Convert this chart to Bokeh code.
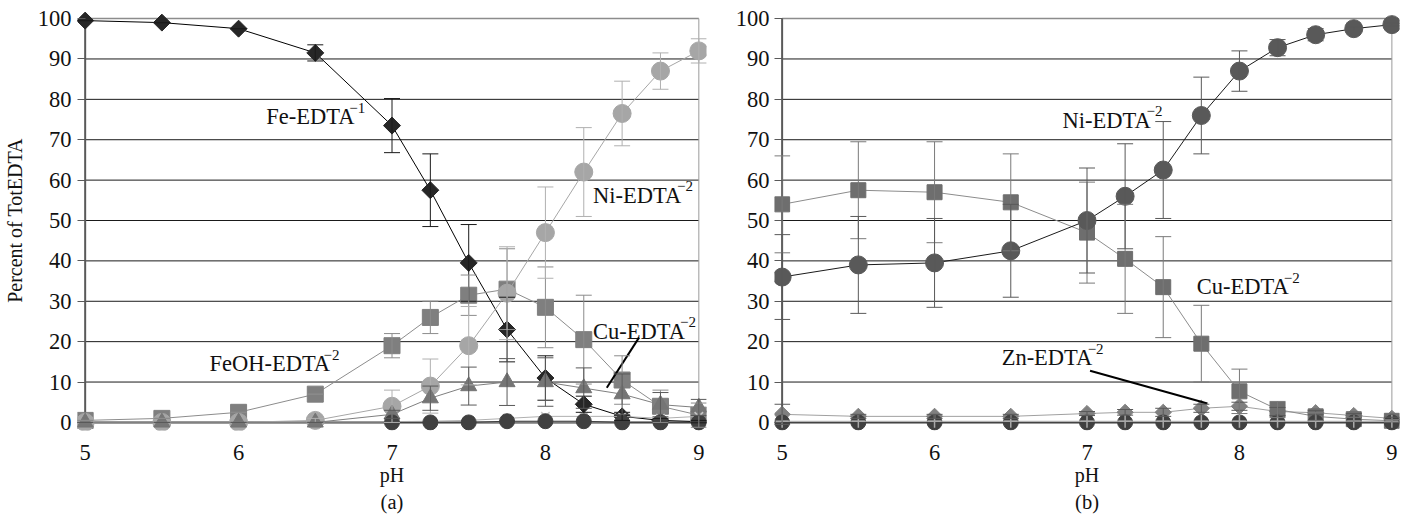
from bokeh.plotting import figure
from bokeh.layouts import row
from bokeh.models import ColumnDataSource, Whisker, TeeHead, FixedTicker, Range1d, Title
from bokeh.core.properties import value
from bokeh.embed import file_html
from bokeh.resources import INLINE
import math

FONT = "Liberation Serif"
TXT = "#111111"

# ---------------- data ----------------
PH = [5, 5.5, 6, 6.5, 7, 7.25, 7.5, 7.75, 8, 8.25, 8.5, 8.75, 9]
PH_HI = [7, 7.25, 7.5, 7.75, 8, 8.25, 8.5, 8.75, 9]
X_TICKS = [5, 6, 7, 8, 9]
Y_TICKS = [0, 10, 20, 30, 40, 50, 60, 70, 80, 90, 100]

# panel (a)
A_FE = [99.5, 99, 97.5, 91.5, 73.5, 57.5, 39.5, 23, 11, 4.5, 1.5, 0.5, 0.2]
A_FE_ERR = [0, 0, 0, 2, 6.7, 9, 9.5, 8, 5.5, 2, 1, 0.5, 0.3]
A_FEOH = [0.5, 1, 2.5, 7, 19, 26, 31.5, 33, 28.5, 20.5, 10.5, 4, 1.8]
A_FEOH_ERR = [0, 0, 0, 0, 3, 4, 5, 10, 10, 11, 6, 4, 3]
A_NI = [0, 0, 0, 0.5, 4, 9, 19, 32, 47, 62, 76.5, 87, 92]
A_NI_ERR = [0, 0, 0, 0.5, 4, 6.7, 9.7, 11.5, 11.3, 11, 8, 4.5, 3]
A_CU = [0, 0, 0, 0, 2, 6, 9, 10, 10, 8.5, 7, 4.4, 3.7]
A_CU_ERR = [0, 0, 0, 0, 1, 3, 4.7, 5.8, 6, 5, 5, 3, 2]
A_X = [0.2, 0.3, 0.5, 1, 1.5, 1.5, 1.5, 1, 1.5]
A_DARK = [0, 0, 0, 0.3, 0.3, 0.3, 0, 0, 0]

# panel (b)
B_NI = [36, 39, 39.5, 42.5, 50, 56, 62.5, 76, 87, 92.8, 96, 97.5, 98.5]
B_NI_ERR = [10.5, 12, 11, 11.5, 13, 13, 12, 9.5, 5, 2, 1.5, 0.5, 0.3]
B_CU = [54, 57.5, 57, 54.5, 47, 40.5, 33.5, 19.5, 7.7, 3.2, 1.5, 0.8, 0.4]
B_CU_ERR = [12, 12, 12.5, 12, 12.5, 13.5, 12.5, 9.5, 5.5, 2, 1, 0.5, 0.3]
B_ZN = [2, 1.5, 1.5, 1.5, 2.2, 2.5, 2.5, 3.5, 4, 2.7, 2.4, 1.7, 1]
B_ZN_ERR = [2.5, 0.5, 0.5, 0.5, 0.5, 0.7, 1, 1, 1, 1, 0.5, 0.5, 0.3]
B_DARK = [0, 0, 0, 0, 0, 0, 0, 0, 0, 0, 0, 0, 0]
B_X = [0.3, 0.3, 0.3, 0.3, 0.3, 0.3, 0.3, 0.3, 0.3, 0.3, 0.3, 0.3, 0.3]


def make_fig(w, h, bl, br, bt, bb, ylabel, panel):
    p = figure(width=w, height=h, output_backend="svg", toolbar_location=None,
               x_range=Range1d(4.95, 9.05), y_range=Range1d(-2, 102),
               min_border_left=bl, min_border_right=br, min_border_top=bt,
               min_border_bottom=bb)
    p.outline_line_color = None
    p.background_fill_color = "white"
    p.xgrid.visible = False
    p.ygrid.visible = False
    # x axis
    p.xaxis.ticker = FixedTicker(ticks=X_TICKS)
    p.xaxis.axis_line_color = None
    p.xaxis.major_tick_line_color = None
    p.xaxis.minor_tick_line_color = None
    p.xaxis.major_label_standoff = 8
    p.xaxis.axis_label = "pH"
    p.xaxis.axis_label_standoff = 1
    # y axis
    p.yaxis.ticker = FixedTicker(ticks=Y_TICKS)
    p.yaxis.axis_line_color = None
    p.yaxis.major_tick_in = 8
    p.yaxis.major_tick_out = 0
    p.yaxis.major_tick_line_color = "#595959"
    p.yaxis.major_tick_line_width = 1
    p.yaxis.minor_tick_line_color = None
    p.yaxis.major_label_standoff = 6 if ylabel else 5
    if ylabel:
        p.yaxis.axis_label = ylabel
        p.yaxis.axis_label_standoff = 9
    for ax in (p.xaxis[0], p.yaxis[0]):
        ax.major_label_text_font = FONT
        ax.major_label_text_font_size = "22.5px"
        ax.major_label_text_color = TXT
        ax.axis_label_text_font = FONT
        ax.axis_label_text_font_size = "20px"
        ax.axis_label_text_font_style = "normal"
        ax.axis_label_text_color = TXT
    p.add_layout(Title(text=panel, align="center", text_font=FONT,
                       text_font_size="20.5px", text_font_style="normal",
                       text_color=TXT, standoff=0), "below")
    # grid lines (5..9) and frame lines
    gy = Y_TICKS[1:-1]
    p.segment(x0=[X_TICKS[0]] * len(gy), y0=gy, x1=[X_TICKS[-1]] * len(gy), y1=gy,
              line_color="#1a1a1a", line_width=1)
    p.segment(x0=[X_TICKS[0]], y0=[Y_TICKS[-1]], x1=[X_TICKS[-1]], y1=[Y_TICKS[-1]],
              line_color="#8c8c8c", line_width=1.5)
    p.segment(x0=[X_TICKS[-1]], y0=[Y_TICKS[0]], x1=[X_TICKS[-1]], y1=[Y_TICKS[-1]],
              line_color="#9a9a9a", line_width=1)
    p.segment(x0=[X_TICKS[0]], y0=[Y_TICKS[0]], x1=[X_TICKS[0]], y1=[Y_TICKS[-1]],
              line_color="#595959", line_width=2)
    p.segment(x0=[X_TICKS[0]], y0=[Y_TICKS[0]], x1=[X_TICKS[-1]], y1=[Y_TICKS[0]],
              line_color="#7a7a7a", line_width=2.5)
    return p


def series(p, xs, ys, err, marker, size, fill, line, bar, angle=0.0, lw=1.0):
    p.line(xs, ys, line_color=line, line_width=lw)
    if err is not None:
        src = ColumnDataSource(dict(x=xs, lo=[a - b for a, b in zip(ys, err)],
                                    hi=[a + b for a, b in zip(ys, err)]))
        wk = Whisker(source=src, base="x", lower="lo", upper="hi", dimension="height",
                     line_color=bar, line_width=1, level="glyph",
                     upper_head=TeeHead(size=16, line_color=bar, line_width=1),
                     lower_head=TeeHead(size=16, line_color=bar, line_width=1))
        p.add_layout(wk)
    if marker in ("x", "cross"):
        p.scatter(xs, ys, marker=marker, size=size, line_color=fill, line_width=1.5)
    else:
        p.scatter(xs, ys, marker=marker, size=size, fill_color=fill, line_color=fill,
                  angle=angle)


def tag(p, x, y, main, sup, w):
    p.text(x=[x], y=[y], text=[main], text_font=value(FONT), text_font_size="22.5px",
           text_baseline="middle", text_align="left", text_color=TXT)
    p.text(x=[x], y=[y], text=[sup], x_offset=w, y_offset=-9, text_font=value(FONT),
           text_font_size="15px", text_baseline="middle", text_align="left",
           text_color=TXT)


D45 = math.pi / 4

# ---------------- panel (a) ----------------
pa = make_fig(720, 522, 75, 14, 7, 92, "Percent of TotEDTA", "(a)")
series(pa, PH, A_FE, A_FE_ERR, "square", 12, "#262626", "#000000", "#1a1a1a", angle=D45)
series(pa, PH, A_FEOH, A_FEOH_ERR, "square", 16, "#7f7f7f", "#8c8c8c", "#8c8c8c")
series(pa, PH, A_NI, A_NI_ERR, "circle", 18, "#a6a6a6", "#a6a6a6", "#b0b0b0")
series(pa, PH, A_CU, A_CU_ERR, "triangle", 16, "#757575", "#7f7f7f", "#595959")
series(pa, PH_HI, A_X, None, "x", 12, "#c8c8c8", "#b0b0b0", None)
series(pa, PH_HI, A_DARK, None, "circle", 15, "#404040", "#404040", None)

tag(pa, 6.18, 75.7, "Fe-EDTA", "\u22121", 83)
tag(pa, 8.31, 56.3, "Ni-EDTA", "\u22122", 84)
tag(pa, 5.81, 14.5, "FeOH-EDTA", "\u22122", 114)
tag(pa, 8.31, 22.6, "Cu-EDTA", "\u22122", 87)
pa.segment(x0=[8.61], y0=[21], x1=[8.40], y1=[8.6], line_color="#000000", line_width=2)

# ---------------- panel (b) ----------------
pb = make_fig(686, 522, 54, 7, 10, 91, None, "(b)")
series(pb, PH, B_ZN, B_ZN_ERR, "square", 11.5, "#808080", "#a0a0a0", "#595959", angle=D45)
series(pb, PH, B_CU, B_CU_ERR, "square", 15, "#6e6e6e", "#8c8c8c", "#7a7a7a")
series(pb, PH, B_NI, B_NI_ERR, "circle", 18, "#595959", "#1a1a1a", "#595959")
series(pb, PH, B_DARK, None, "circle", 15, "#404040", "#404040", None)
series(pb, PH, B_X, None, "cross", 13, "#a8a8a8", "#c0c0c0", None)

tag(pb, 6.84, 74.8, "Ni-EDTA", "\u22122", 84)
tag(pb, 7.72, 33.6, "Cu-EDTA", "\u22122", 87)
tag(pb, 6.44, 16.0, "Zn-EDTA", "\u22122", 86)
pb.segment(x0=[7.02], y0=[12.8], x1=[7.79], y1=[4.7], line_color="#000000", line_width=2)

layout = row(pa, pb, spacing=0)
open("out.html", "w").write(file_html(layout, INLINE))
